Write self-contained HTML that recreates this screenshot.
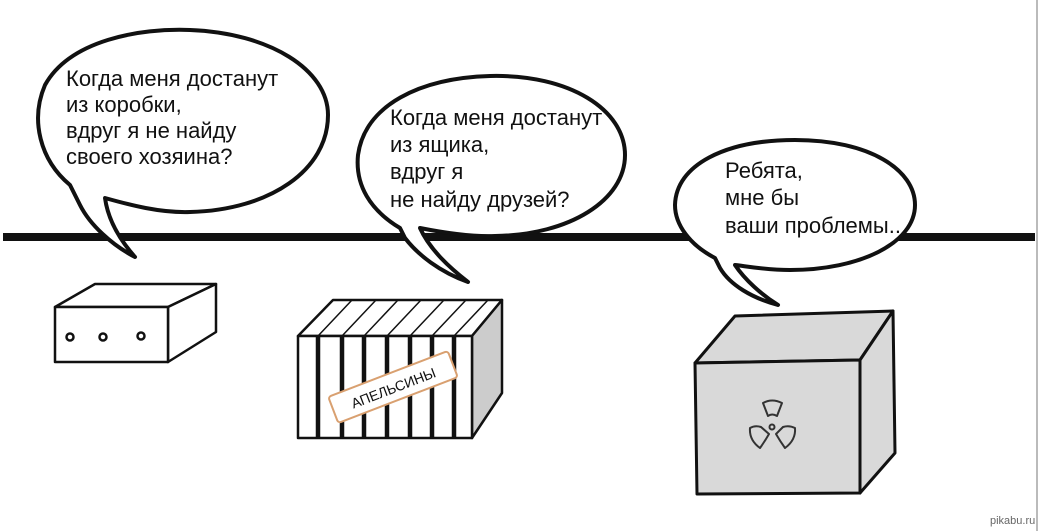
<!DOCTYPE html>
<html><head><meta charset="utf-8"><style>
html,body{margin:0;padding:0;background:#fff}
svg{display:block}
text{font-family:"Liberation Sans","DejaVu Sans",sans-serif;font-size:22px;fill:#111}
</style></head><body>
<svg width="1041" height="531" viewBox="0 0 1041 531" xmlns="http://www.w3.org/2000/svg">
<rect width="1041" height="531" fill="#fff"/>
<line x1="1037" y1="0" x2="1037" y2="531" stroke="#bbb" stroke-width="2"/>
<rect x="3" y="233" width="1032" height="8" fill="#111"/>

<g stroke="#111" stroke-width="4" fill="#fff" stroke-linejoin="round">
<path d="M70,185 C40,160 30,120 45,85 C70,40 140,28 190,30 C270,33 328,70 328,115 C328,170 270,210 190,212 C160,213 130,205 105,198 C108,220 120,240 135,257 C112,245 90,225 80,205 Z"/>
<path d="M400,228 C370,210 355,185 358,155 C365,105 420,78 490,76 C570,74 625,110 625,155 C625,200 570,235 495,236 C470,237 440,232 420,228 C430,250 450,268 468,282 C440,272 418,255 405,238 Z"/>
<path d="M715,258 C690,245 675,225 675,205 C676,165 725,140 795,140 C870,140 915,170 915,205 C915,243 860,270 790,270 C765,270 745,266 735,265 C745,280 762,295 778,305 C752,298 730,285 720,268 Z"/>
</g>
<text x="66" y="86">Когда меня достанут</text>
<text x="66" y="112">из коробки,</text>
<text x="66" y="138">вдруг я не найду</text>
<text x="66" y="164">своего хозяина?</text>
<text x="390" y="125">Когда меня достанут</text>
<text x="390" y="152">из ящика,</text>
<text x="390" y="179">вдруг я</text>
<text x="390" y="207">не найду друзей?</text>
<text x="725" y="178">Ребята,</text>
<text x="725" y="205">мне бы</text>
<text x="725" y="233">ваши проблемы...</text>

<g stroke="#111" stroke-width="2.5" fill="#fff" stroke-linejoin="round">
<path d="M55,307 L95,284 L216,284 L168,307 Z"/>
<path d="M168,307 L216,284 L216,332 L168,362 Z"/>
<rect x="55" y="307" width="113" height="55"/>
<circle cx="70" cy="337" r="3.5"/><circle cx="103" cy="337" r="3.5"/><circle cx="141" cy="336" r="3.5"/>
</g>

<g stroke="#111" stroke-linejoin="round">
<path d="M298,336 L333,300 L502,300 L472,336 Z" fill="#fff" stroke-width="2.5"/>
<path d="M472,336 L502,300 L502,393 L472,438 Z" fill="#ccc" stroke-width="2.5"/>
<rect x="298" y="336" width="174" height="102" fill="#fff" stroke-width="2.5"/>
<g stroke-width="1.5">
<line x1="318" y1="336" x2="352" y2="300"/><line x1="342" y1="336" x2="376" y2="300"/>
<line x1="364" y1="336" x2="398" y2="300"/><line x1="387" y1="336" x2="421" y2="300"/>
<line x1="410" y1="336" x2="444" y2="300"/><line x1="432" y1="336" x2="466" y2="300"/>
<line x1="454" y1="336" x2="488" y2="300"/>
</g>
<g stroke-width="4.5">
<line x1="318" y1="336" x2="318" y2="438"/><line x1="342" y1="336" x2="342" y2="438"/>
<line x1="364" y1="336" x2="364" y2="438"/><line x1="387" y1="336" x2="387" y2="438"/>
<line x1="410" y1="336" x2="410" y2="438"/><line x1="432" y1="336" x2="432" y2="438"/>
<line x1="454" y1="336" x2="454" y2="438"/>
</g>
</g>
<g transform="translate(393,387) rotate(-21)">
<rect x="-64" y="-14" width="128" height="28" rx="3" fill="#fff" stroke="#d9a070" stroke-width="2"/>
<text x="0" y="6" text-anchor="middle" style="font-size:14px">АПЕЛЬСИНЫ</text>
</g>

<g stroke="#111" stroke-width="3" fill="#d9d9d9" stroke-linejoin="round">
<path d="M695,363 L735,316 L893,311 L860,360 Z"/>
<path d="M860,360 L893,311 L895,453 L860,493 Z"/>
<path d="M695,363 L860,360 L860,493 L697,494 Z"/>
</g>
<g stroke="#333" stroke-width="2" fill="#d9d9d9" stroke-linejoin="round">
<path d="M763,403 Q772,398 782,403 L777,416 Q772,413 768,416 Z"/>
<path d="M750,428 Q755,425 761,427 L769,434 Q765,441 760,448 Q749,440 750,428 Z"/>
<path d="M795,428 Q789,425 783,427 L776,434 Q780,441 785,448 Q796,440 795,428 Z"/>
<circle cx="772" cy="427" r="2.5"/>
</g>
<text x="990" y="524" style="font-size:11px;fill:#666">pikabu.ru</text>
</svg>
</body></html>
